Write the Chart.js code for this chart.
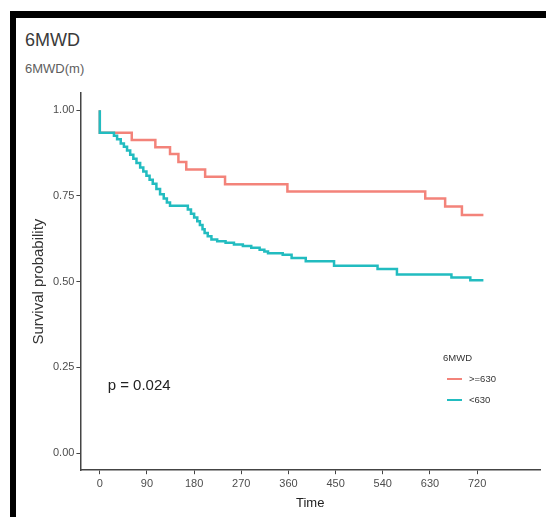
<!DOCTYPE html>
<html>
<head>
<meta charset="utf-8">
<script src="https://cdn.jsdelivr.net/npm/chart.js@4.4.1/dist/chart.umd.min.js"></script>
<style>
    body { margin: 0; background: #fff; }
    #wrap { position: relative; width: 546px; height: 517px; overflow: hidden; }
    #frame {
        position: absolute; left: 10px; top: 11px; width: 560px; height: 503px;
        border-left: 6px solid #000; border-top: 7px solid #000; border-bottom: 2px solid #777;
    }
    #title { position: absolute; left: 25px; top: 30px; font: 18px "Liberation Sans", Arial, sans-serif; color: #3a3a3a; }
    #subtitle { position: absolute; left: 25px; top: 61px; font: 13px "Liberation Sans", Arial, sans-serif; color: #5e5e5e; }
    canvas { position: absolute; left: 0; top: 0; }
</style>
</head>
<body>
<div id="wrap">
    <div id="frame"></div>
    <div id="title">6MWD</div>
    <div id="subtitle">6MWD(m)</div>
    <canvas id="kmChart" width="546" height="517"></canvas>
</div>
<script>
// --- Data ---
const xTicks = [0, 90, 180, 270, 360, 450, 540, 630, 720];
const yTicks = [0, 0.25, 0.5, 0.75, 1];

const groupLabels = ['>=630', '<630'];
const groupColors = ['#F3837A', '#22BCC0'];

// >=630 group: event times and survival after each step
const highTimes = [0, 0, 61, 106, 134, 150, 165, 201, 239, 358, 621, 659, 691, 732];
const highSurv  = [1, 0.934, 0.913, 0.892, 0.872, 0.849, 0.827, 0.806, 0.784, 0.763, 0.742, 0.719, 0.694, 0.694];

// <630 group
const lowTimes = [0, 0, 27, 33, 40, 46, 52, 58, 64, 70, 77, 83, 89, 95, 101, 108, 115, 122, 128, 134,
    168, 174, 180, 186, 191, 196, 200, 206, 213, 224, 240, 256, 273, 289, 305, 314, 321, 349, 366,
    393, 447, 530, 567, 671, 707, 732];
const lowSurv = [1, 0.934, 0.925, 0.915, 0.903, 0.893, 0.882, 0.870, 0.858, 0.846, 0.833, 0.821, 0.809,
    0.797, 0.785, 0.770, 0.755, 0.742, 0.731, 0.721,
    0.710, 0.698, 0.687, 0.676, 0.665, 0.653, 0.642, 0.632, 0.623, 0.618, 0.613, 0.608, 0.604, 0.599,
    0.593, 0.588, 0.583, 0.578, 0.569, 0.559, 0.546, 0.537, 0.521, 0.512, 0.504, 0.504];

const pValueText = 'p = 0.024';
const legendTitle = '6MWD';

const toPoints = (ts, ss) => ts.map((t, i) => ({ x: t, y: ss[i] }));

const FONT = '"Liberation Sans", Arial, sans-serif';
const axisColor = '#444';
const tickColor = '#4d4d4d';

// p-value and the legend box drawn on top of the plot
const annotations = {
    id: 'annotations',
    afterDatasetsDraw(chart) {
        const ctx = chart.ctx;
        const xs = chart.scales.x;
        const ys = chart.scales.y;
        ctx.save();

        ctx.fillStyle = '#222';
        ctx.font = '15px ' + FONT;
        ctx.textBaseline = 'middle';
        ctx.textAlign = 'left';
        ctx.fillText(pValueText, xs.getPixelForValue(15), ys.getPixelForValue(0.197));

        // legend
        const lx = 443, ly = 358;
        ctx.font = '9.5px ' + FONT;
        ctx.fillStyle = '#333';
        ctx.fillText(legendTitle, lx, ly);
        chart.data.datasets.forEach((ds, i) => {
            const y = ly + 21 + i * 21;
            ctx.strokeStyle = ds.borderColor;
            ctx.lineWidth = 2;
            ctx.beginPath();
            ctx.moveTo(lx + 4, y);
            ctx.lineTo(lx + 19, y);
            ctx.stroke();
            ctx.fillStyle = '#333';
            ctx.fillText(ds.label, lx + 26, y);
        });
        ctx.restore();
    }
};

new Chart(document.getElementById('kmChart').getContext('2d'), {
    type: 'line',
    data: {
        datasets: [
            {
                label: groupLabels[0],
                data: toPoints(highTimes, highSurv),
                borderColor: groupColors[0],
                borderWidth: 2.5,
                pointRadius: 0,
                stepped: 'before',
                fill: false,
                order: 1
            },
            {
                label: groupLabels[1],
                data: toPoints(lowTimes, lowSurv),
                borderColor: groupColors[1],
                borderWidth: 2.5,
                pointRadius: 0,
                stepped: 'before',
                fill: false,
                order: 0
            }
        ]
    },
    options: {
        responsive: false,
        devicePixelRatio: 1,
        animation: false,
        layout: { padding: { left: 27, top: 93, right: 6, bottom: 6 } },
        plugins: {
            legend: { display: false },
            tooltip: { enabled: false }
        },
        scales: {
            x: {
                type: 'linear',
                min: -37,
                max: 840,
                afterBuildTicks: (scale) => { scale.ticks = xTicks.map(v => ({ value: v })); },
                ticks: { color: tickColor, font: { size: 11, family: FONT }, padding: 3, maxRotation: 0 },
                grid: { display: true, drawOnChartArea: false, drawTicks: true, tickLength: 4, color: axisColor },
                border: { display: true, color: axisColor, width: 1.5 },
                title: { display: true, text: 'Time', color: '#222', font: { size: 13, family: FONT }, padding: { top: 2, bottom: 0 } }
            },
            y: {
                min: -0.05,
                max: 1.05,
                afterBuildTicks: (scale) => { scale.ticks = yTicks.map(v => ({ value: v })); },
                ticks: { color: tickColor, font: { size: 11, family: FONT }, padding: 2, callback: v => v.toFixed(2) },
                grid: { display: true, drawOnChartArea: false, drawTicks: true, tickLength: 4, color: axisColor },
                border: { display: true, color: axisColor, width: 1.5 },
                title: { display: true, text: 'Survival probability', color: '#333', font: { size: 15, family: FONT }, padding: 3 }
            }
        }
    },
    plugins: [annotations]
});
</script>
</body>
</html>
